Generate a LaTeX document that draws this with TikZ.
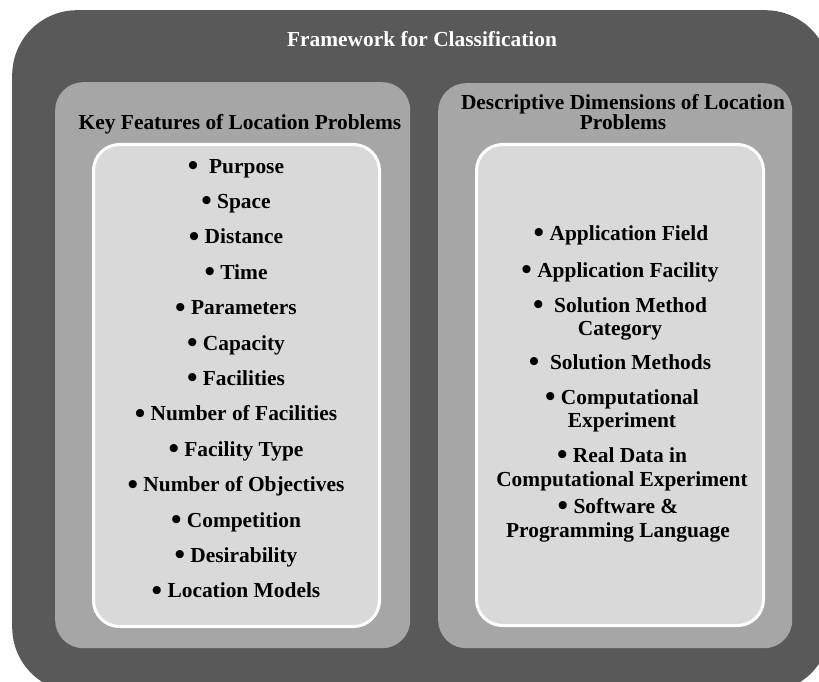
\documentclass[tikz,border=0pt]{standalone}
\usepackage{fontspec}
\setmainfont{Liberation Serif}
\usetikzlibrary{positioning}

\definecolor{frameGray}{HTML}{595959}
\definecolor{panelGray}{HTML}{A6A6A6}
\definecolor{listGray}{HTML}{D9D9D9}

\newcommand{\blob}{\raisebox{-0.12em}{\scalebox{1.4}{\textbullet}}}

\begin{document}
\begin{tikzpicture}[x=1pt, y=-1pt,
  frame/.style={rectangle, fill=frameGray, rounded corners=65pt, anchor=north west,
    inner sep=0pt, minimum width=818pt, minimum height=682pt},
  panel/.style={rectangle, fill=panelGray, rounded corners=28pt, anchor=north west,
    inner sep=0pt, minimum width=355pt, minimum height=566pt},
  listbox/.style={rectangle, fill=listGray, draw=white, line width=3pt, rounded corners=26pt,
    anchor=north west, inner sep=0pt, minimum width=286pt, minimum height=482pt},
  title/.style={font=\fontsize{21.4}{23}\selectfont\bfseries, text=white, anchor=base},
  heading/.style={font=\fontsize{21.4}{20}\selectfont\bfseries, anchor=base, align=center},
  item/.style={font=\fontsize{21.4}{23}\selectfont\bfseries, anchor=base, align=center, inner sep=0pt}
]
\useasboundingbox (0,0) rectangle (819,682);
\clip (0,0) rectangle (819,682);

% Rahmen
\node (frame) [frame] at (12,10) {};
\node (title) [title] at (422,47) {Framework for Classification};

% linke Spalte
\node (keyPanel) [panel] at (55,82) {};
\node (keyHead) [heading] at (240,130) {Key Features of Location Problems};
\node (keyList) [listbox] at (92,143) {};
\foreach \txt [count=\i from 0] in {{\blob\ \ Purpose}, {\blob\ Space},
    {\blob\ Distance}, {\blob\ Time}, {\blob\ Parameters},
    {\blob\ Capacity}, {\blob\ Facilities}, {\blob\ Number of Facilities},
    {\blob\ Facility Type}, {\blob\ Number of Objectives},
    {\blob\ Competition}, {\blob\ Desirability}, {\blob\ Location Models}}
  \node (feat\i) [item] at (236,{173+35.4*\i}) {\txt};

% rechte Spalte (base = letzte Zeile)
\node (dimPanel) [panel, minimum width=354pt, minimum height=565pt] at (438,83) {};
\node (dimHead) [heading] at (623,130) {Descriptive Dimensions of Location\\Problems};
\node (dimList) [listbox, minimum width=287pt, minimum height=481pt] at (475,143) {};

\node (dim1) [item] at (621,240) {\blob\ Application Field};
\node (dim2) [item] at (620,277) {\blob\ Application Facility};
\node (dim3) [item] at (620,335) {\blob\ \ Solution Method\\Category};
\node (dim4) [item] at (620,369) {\blob\ \ Solution Methods};
\node (dim5) [item] at (622,427) {\blob\ Computational\\Experiment};
\node (dim6) [item, font=\fontsize{21.4}{24}\selectfont\bfseries] at (622,486) {\blob\ Real Data in\\Computational Experiment};
\node (dim7) [item, font=\fontsize{21.4}{24}\selectfont\bfseries] at (618,537) {\blob\ Software \&\\Programming Language};

\end{tikzpicture}
\end{document}
